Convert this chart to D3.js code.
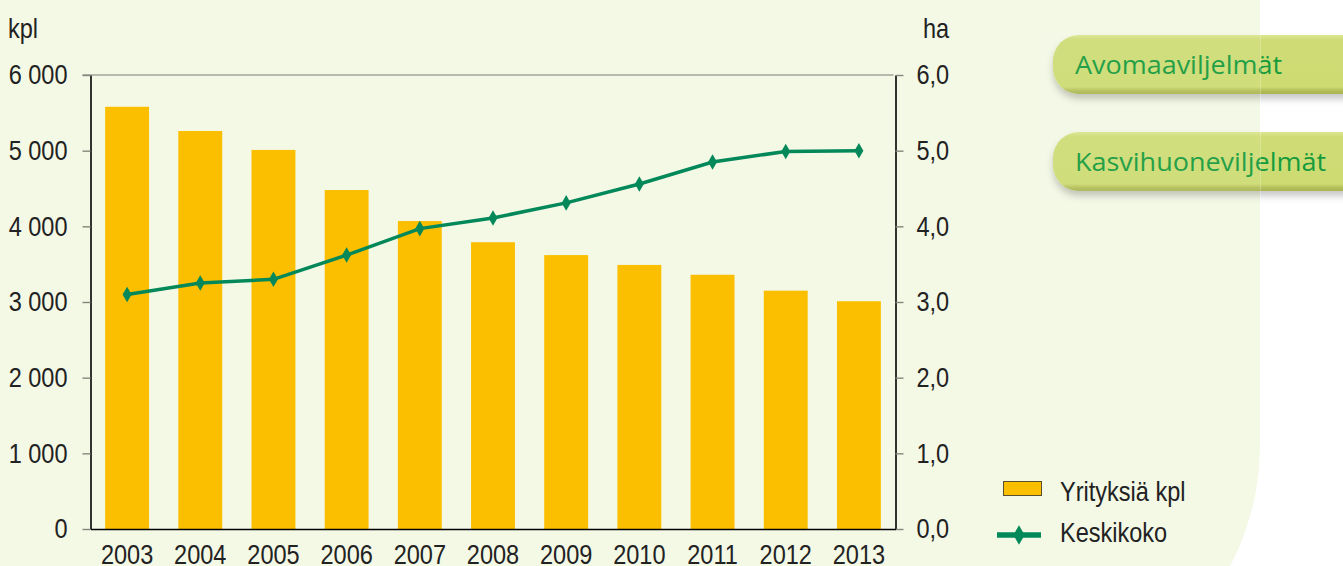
<!DOCTYPE html>
<html>
<head>
<meta charset="utf-8">
<script src="https://cdn.jsdelivr.net/npm/d3@7"></script>
<style>
  body { margin: 0; background: #fff; }
  svg { display: block; }
  .ax text { font-family: "Liberation Sans", Arial, sans-serif; font-size: 28px; fill: #222; }
</style>
</head>
<body>
<svg id="chart" width="1343" height="566"></svg>
<script>
const years = ['2003', '2004', '2005', '2006', '2007', '2008', '2009', '2010', '2011', '2012', '2013'];
const yrityksia = [5580, 5260, 5010, 4480, 4070, 3790, 3620, 3490, 3360, 3150, 3010];
const keskikoko = [3.10, 3.25, 3.30, 3.62, 3.97, 4.11, 4.31, 4.56, 4.85, 4.99, 5.00];
const leftTicks = [0, 1000, 2000, 3000, 4000, 5000, 6000];
const rightTicks = [0, 1, 2, 3, 4, 5, 6];
const buttons = ['Avomaaviljelmät', 'Kasvihuoneviljelmät'];
const legendItems = ['Yrityksiä kpl', 'Keskikoko'];

const fi = d3.formatLocale({ decimal: ',', thousands: ' ', grouping: [3], currency: ['', ''] });

const svg = d3.select('#chart');
const font = '"Liberation Sans", Arial, sans-serif';

// the original uses a narrow face; squeeze the regular one to match
function narrow(sel, k = 0.84) {
  sel.each(function () {
    const len = this.getComputedTextLength();
    d3.select(this).attr('textLength', len * k).attr('lengthAdjust', 'spacingAndGlyphs');
  });
}

const margin = { top: 75, bottom: 529, left: 90.5, right: 895.5 };

// background panel with rounded lower right corner
svg.append('path')
  .attr('d', 'M0,0 H1260 V445 A260,260 0 0 1 1000,705 H0 Z')
  .attr('fill', '#f4f9e6');

const x = d3.scaleBand().domain(years).range([margin.left, margin.right])
  .paddingInner(0.4).paddingOuter(0.2);
const yL = d3.scaleLinear().domain([0, 6000]).range([margin.bottom, margin.top]);
const yR = d3.scaleLinear().domain([0, 6]).range([margin.bottom, margin.top]);

// top grey line
svg.append('line')
  .attr('x1', margin.left - 8).attr('x2', margin.right - 2)
  .attr('y1', yL(6000)).attr('y2', yL(6000))
  .attr('stroke', '#7a7a72').attr('stroke-width', 1.2);

// bars
svg.append('g').selectAll('rect')
  .data(yrityksia)
  .join('rect')
  .attr('x', (d, i) => x(years[i]))
  .attr('y', d => yL(d))
  .attr('width', x.bandwidth())
  .attr('height', d => yL(0) - yL(d))
  .attr('fill', '#fbbf00');

// axes
const gL = svg.append('g').attr('class', 'ax')
  .attr('transform', `translate(${margin.left},0)`)
  .call(d3.axisLeft(yL).tickValues(leftTicks).tickFormat(fi.format(',.0f')).tickSize(8).tickSizeOuter(0).tickPadding(15));
const gR = svg.append('g').attr('class', 'ax')
  .attr('transform', `translate(${margin.right},0)`)
  .call(d3.axisRight(yR).tickValues(rightTicks).tickFormat(fi.format('.1f')).tickSize(8).tickSizeOuter(0).tickPadding(13));
const gB = svg.append('g').attr('class', 'ax')
  .attr('transform', `translate(0,${margin.bottom})`)
  .call(d3.axisBottom(x).tickSize(0).tickSizeOuter(0));

[gL, gR, gB].forEach(g => {
  g.select('.domain').attr('stroke', '#000').attr('stroke-width', 1.6);
  g.selectAll('.tick line').attr('stroke', '#85857c').attr('stroke-width', 1.4);
  g.selectAll('text').call(narrow);
});
gB.selectAll('text').attr('y', 35).attr('dy', 0);

// line series
const line = d3.line()
  .x((d, i) => x(years[i]) + x.bandwidth() / 2)
  .y(d => yR(d));

svg.append('path')
  .datum(keskikoko)
  .attr('fill', 'none')
  .attr('stroke', '#03885a')
  .attr('stroke-width', 3.5)
  .attr('d', line);

const diamond = d3.symbol().type(d3.symbolDiamond).size(70);
svg.append('g').selectAll('path')
  .data(keskikoko)
  .join('path')
  .attr('transform', (d, i) => `translate(${x(years[i]) + x.bandwidth() / 2},${yR(d)})`)
  .attr('d', diamond)
  .attr('fill', '#03885a');

// axis units
svg.append('text').attr('x', 8).attr('y', 38).text('kpl')
  .attr('font-family', font).attr('font-size', 28).attr('fill', '#222').call(narrow);
svg.append('text').attr('x', 923).attr('y', 38).text('ha')
  .attr('font-family', font).attr('font-size', 28).attr('fill', '#222').call(narrow);

// legend
const lg = svg.append('g').attr('font-family', font).attr('font-size', 28).attr('fill', '#222');
lg.append('rect').attr('x', 1003.5).attr('y', 481.5).attr('width', 38).attr('height', 14)
  .attr('fill', '#fbbf00').attr('stroke', '#5a5030').attr('stroke-width', 1);
lg.append('line').attr('x1', 997).attr('x2', 1041).attr('y1', 535).attr('y2', 535)
  .attr('stroke', '#03885a').attr('stroke-width', 5.5);
lg.append('path').attr('transform', 'translate(1019,535)').attr('d', d3.symbol().type(d3.symbolDiamond).size(110))
  .attr('fill', '#03885a');
lg.selectAll('text.l').data(legendItems).join('text')
  .attr('class', 'l')
  .attr('x', 1060)
  .attr('y', (d, i) => 501 + i * 41)
  .text(d => d)
  .call(narrow);

// buttons
const defs = svg.append('defs');
const grad = defs.append('linearGradient').attr('id', 'btn').attr('x1', 0).attr('x2', 0).attr('y1', 0).attr('y2', 1);
grad.append('stop').attr('offset', '0%').attr('stop-color', '#dbe692');
grad.append('stop').attr('offset', '8%').attr('stop-color', '#cfdc76');
grad.append('stop').attr('offset', '88%').attr('stop-color', '#cddb72');
grad.append('stop').attr('offset', '94%').attr('stop-color', '#b4c05a');
grad.append('stop').attr('offset', '100%').attr('stop-color', '#a9b452');
const f = defs.append('filter').attr('id', 'sh').attr('x', '-10%').attr('y', '-20%').attr('width', '130%').attr('height', '160%');
f.append('feDropShadow').attr('dx', 0).attr('dy', 5).attr('stdDeviation', 3.5)
  .attr('flood-color', '#000').attr('flood-opacity', 0.22);

const bw = [207, 251];
const bg = svg.append('g').selectAll('g').data(buttons).join('g')
  .attr('transform', (d, i) => `translate(1053,${35 + i * 97})`);
bg.append('rect')
  .attr('width', 330).attr('height', 59).attr('rx', 26)
  .attr('fill', 'url(#btn)').attr('filter', 'url(#sh)');
bg.append('text')
  .attr('x', 22).attr('y', 39)
  .attr('font-family', '"Open Sans", "Noto Sans", sans-serif')
  .attr('font-size', 26)
  .attr('fill', '#169b3c')
  .attr('textLength', (d, i) => bw[i])
  .attr('lengthAdjust', 'spacingAndGlyphs')
  .text(d => d);

// faint panel overlay edge across the buttons
svg.append('rect').attr('x', 1040).attr('y', 30).attr('width', 220).attr('height', 170)
  .attr('fill', '#ffffff').attr('opacity', 0.06);
svg.append('line').attr('x1', 1260.5).attr('x2', 1260.5).attr('y1', 35).attr('y2', 200)
  .attr('stroke', '#ffffff').attr('stroke-opacity', 0.25);
</script>
</body>
</html>
